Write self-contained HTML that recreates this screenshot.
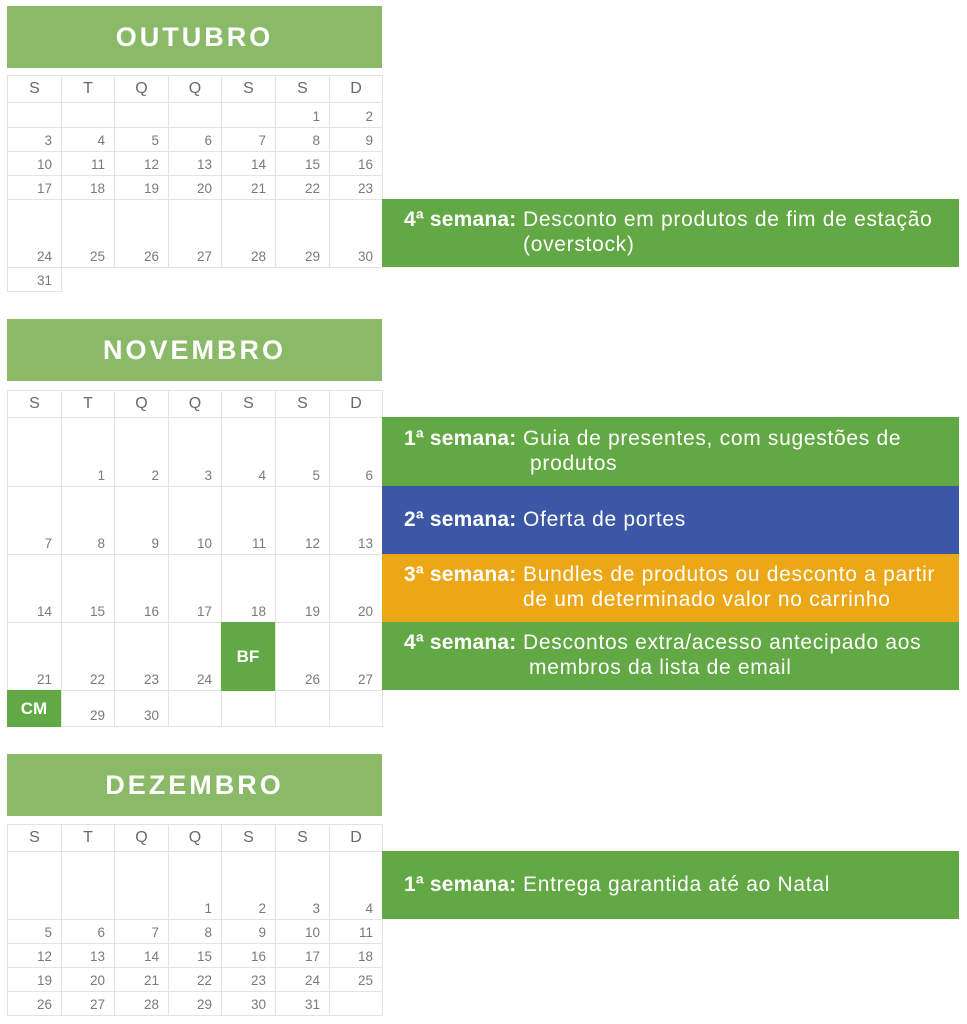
<!DOCTYPE html>
<html><head><meta charset="utf-8">
<style>
body{margin:0;width:967px;height:1024px;background:#fff;position:relative;overflow:hidden;font-family:"Liberation Sans",sans-serif}
.a{position:absolute;box-sizing:border-box}
.hd{background:#8aba68;color:#fff;font-weight:bold;font-size:27px;letter-spacing:3px;display:flex;align-items:center;justify-content:center}
.c{border:1px solid #e3e3e3;color:#7a7a7a;font-size:13.5px}
.n{position:absolute;right:9px;bottom:3px}
.h{display:flex;align-items:center;justify-content:center;font-size:16px;color:#6a6a6a}
.bn{color:#fff;font-size:21px;letter-spacing:0.7px;white-space:nowrap}
.bn b{font-weight:bold;letter-spacing:0.2px}
.t{position:absolute;white-space:nowrap}
.mk{background:#62a844;color:#fff;font-weight:bold;font-size:17px;display:flex;align-items:center;justify-content:center}
</style></head><body>
<div id="r"></div>
<script>
var X=[7,61,114,168,221,275,329,382];
var H=["S","T","Q","Q","S","S","D"];
var o="";
function box(l,t,w,h,cls,inner,st){o+='<div class="a '+cls+'" style="left:'+l+'px;top:'+t+'px;width:'+w+'px;height:'+h+'px;'+(st||'')+'">'+inner+'</div>';}
function month(name,hy,dy,rows,cells){
 box(7,hy,375,62,'hd',name);
 for(var i=0;i<7;i++)box(X[i],dy,X[i+1]-X[i]+1,28,'c h',H[i]);
 for(var r=0;r<rows.length-1;r++){
  for(var i=0;i<7;i++){
   var v=cells[r][i];
   if(v===null)continue;
   box(X[i],rows[r],X[i+1]-X[i]+1,rows[r+1]-rows[r]+1,'c',v===''?'':'<span class="n">'+v+'</span>');
  }
 }
}
month('OUTUBRO',6,75,[102,127,151,175,199,267,291],[
['','','','','',1,2],[3,4,5,6,7,8,9],[10,11,12,13,14,15,16],[17,18,19,20,21,22,23],[24,25,26,27,28,29,30],[31,null,null,null,null,null,null]]);
month('NOVEMBRO',319,390,[417,486,554,622,690,726],[
['',1,2,3,4,5,6],[7,8,9,10,11,12,13],[14,15,16,17,18,19,20],[21,22,23,24,'',26,27],['',29,30,'','','','']]);
month('DEZEMBRO',754,824,[851,919,943,967,991,1015],[
['','','',1,2,3,4],[5,6,7,8,9,10,11],[12,13,14,15,16,17,18],[19,20,21,22,23,24,25],[26,27,28,29,30,31,'']]);
box(221,622,54,69,'mk','BF');
box(7,690,54,37,'mk','CM');
function ban(t,h,col,lbl,l1,l2,x2){
 var inner;
 if(l2){
  inner='<div class="t" style="left:22px;top:'+(h/2-25)+'px"><b>'+lbl+'</b> '+l1+'</div><div class="t" style="left:'+(x2-382)+'px;top:'+(h/2)+'px">'+l2+'</div>';
 } else inner='<div class="t" style="left:22px;top:'+(h/2-12)+'px"><b>'+lbl+'</b> '+l1+'</div>';
 box(382,t,577,h,'bn',inner,'background:'+col);
}
ban(199,68,'#62a844','4ª semana:','Desconto em produtos de fim de estação','(overstock)',523);
ban(417,69,'#62a844','1ª semana:','Guia de presentes, com sugestões de','produtos',530);
ban(486,68,'#3c57a5','2ª semana:','Oferta de portes');
ban(554,68,'#eca717','3ª semana:','Bundles de produtos ou desconto a partir','de um determinado valor no carrinho',523);
ban(622,68,'#62a844','4ª semana:','Descontos extra/acesso antecipado aos','membros da lista de email',529);
ban(851,68,'#62a844','1ª semana:','Entrega garantida até ao Natal');
document.getElementById('r').innerHTML=o;
</script>
</body></html>
